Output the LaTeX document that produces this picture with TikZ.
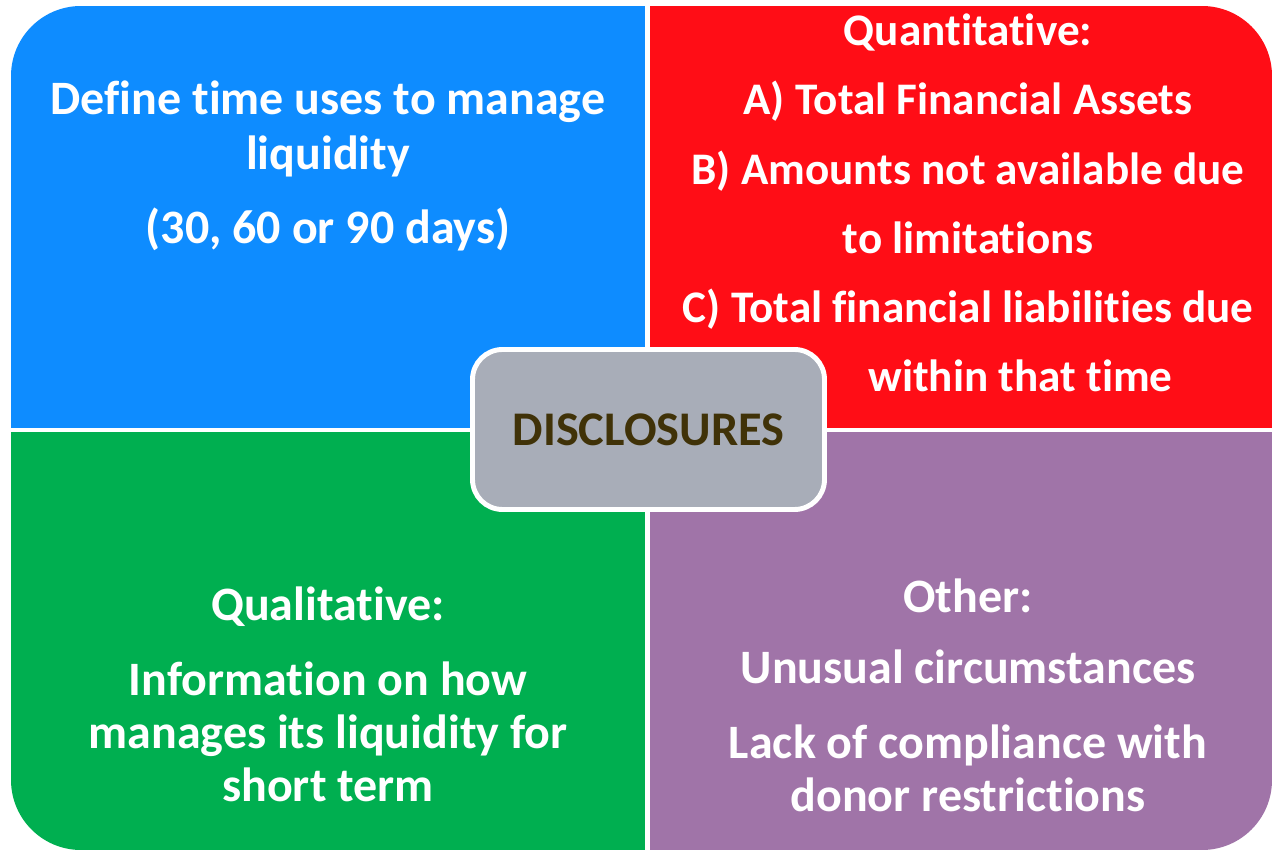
\documentclass[tikz,border=0pt]{standalone}
\usepackage{fontspec}
\setmainfont{Carlito}[Ligatures=NoCommon]
\usetikzlibrary{positioning}
\definecolor{qblue}{RGB}{14,140,255}
\definecolor{qred}{RGB}{255,13,22}
\definecolor{qgreen}{RGB}{0,175,80}
\definecolor{qpurple}{RGB}{160,116,168}
\definecolor{hubgray}{RGB}{168,173,184}
\definecolor{hubtext}{RGB}{64,50,8}
\begin{document}
\begin{tikzpicture}
        [quad/.style={text=white, align=center, font=\bfseries\fontsize{27.3}{30}\selectfont},
         hub/.style={draw=white, line width=2.8pt, fill=hubgray, rounded corners=0.6cm,
                     minimum width=7.04cm, minimum height=3.2cm, text=hubtext,
                     font=\bfseries\fontsize{27.5}{30}\selectfont}]
        \useasboundingbox (0,0) rectangle (25.44,17);
        % four quarters, outer corners rounded
        \begin{scope}
          \clip[rounded corners=1.4cm] (0.22,0) rectangle (25.44,16.88);
          \fill[qblue] (0.22,8.44) rectangle (12.9,16.88);
          \fill[qred] (13,8.44) rectangle (25.44,16.88);
          \fill[qgreen] (0.22,0) rectangle (12.9,8.36);
          \fill[qpurple] (13,0) rectangle (25.44,8.36);
        \end{scope}
        \node[quad] (define) at (6.56,13.68) {Define time uses to manage\\[0.04cm] liquidity\\[0.44cm] (30, 60 or 90 days)};
        \node[quad, font=\bfseries\fontsize{25.7}{30}\selectfont] (quant) at (19.36,12.94) {Quantitative:\\[0.33cm] A) Total Financial Assets\\[0.33cm]
          B) Amounts not available due\\[0.33cm] to limitations\\[0.33cm]
          C) Total financial liabilities due\\[0.33cm] \hspace*{2.1cm}within that time};
        \node[quad] (qual) at (6.56,3.12) {Qualitative:\\[0.46cm] Information on how\\ manages its liquidity for\\ short term};
        \node[quad] (other) at (19.36,3.1) {Other:\\[0.38cm] Unusual circumstances\\[0.44cm] Lack of compliance with\\ donor restrictions};
        \node[hub] (hub) at (12.97,8.41) {DISCLOSURES};
\end{tikzpicture}
\end{document}
